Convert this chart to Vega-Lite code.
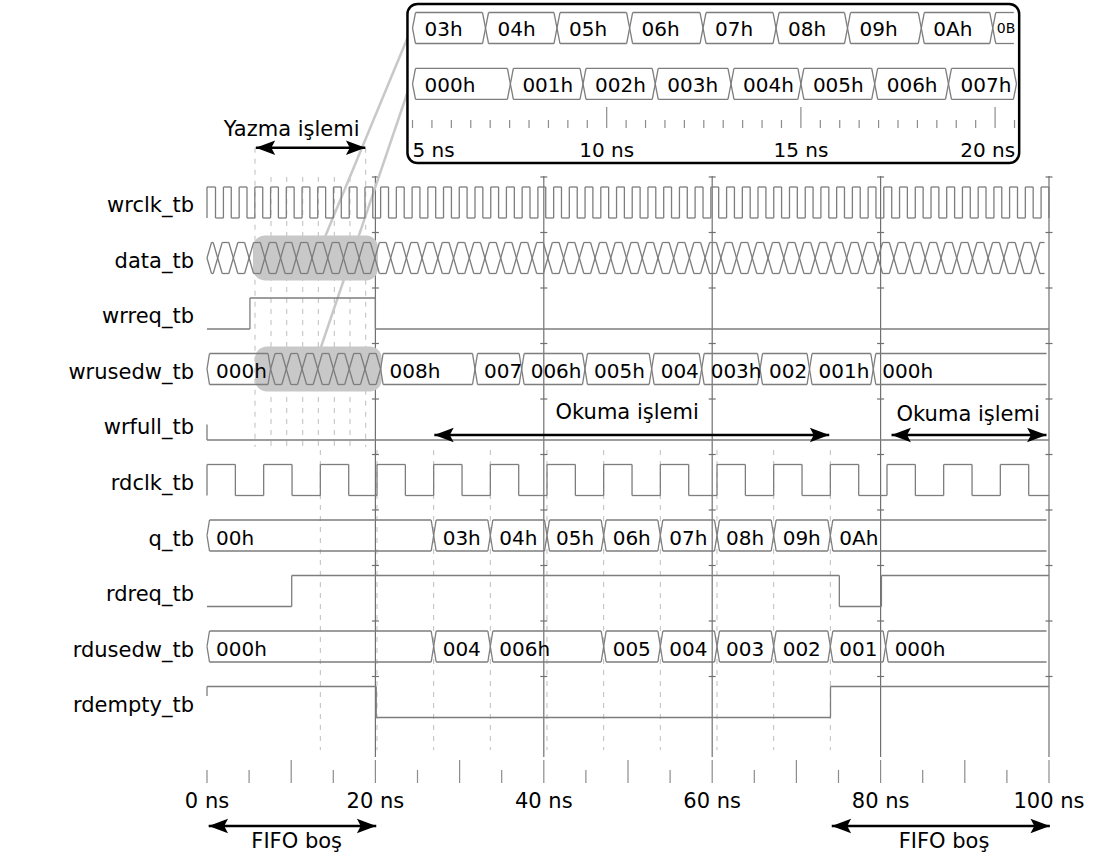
{
"$schema":"https://vega.github.io/schema/vega-lite/v6.json",
"width":1093,"height":859,"padding":0,
"autosize":{"type":"fit","contains":"padding"},
"config":{"view":{"stroke":null},"axis":{"disable":true},"text":{"font":"DejaVu Sans","fontSize":20,"color":"#000000"},"rule":{"color":"#7d7d7d","strokeWidth":1.3}},
"datasets":{
"signals":[{"sig":"wrclk_tb","row":0},{"sig":"data_tb","row":1},{"sig":"wrreq_tb","row":2},{"sig":"wrusedw_tb","row":3},{"sig":"wrfull_tb","row":4},{"sig":"rdclk_tb","row":5},{"sig":"q_tb","row":6},{"sig":"rdreq_tb","row":7},{"sig":"rdusedw_tb","row":8},{"sig":"rdempty_tb","row":9},{"sig":"zoom_data","row":-3.144},{"sig":"zoom_wrusedw","row":-2.139}],
"clocks":[
{"sig":"wrclk_tb","r":0,"f":1.01,"n":1.95},{"sig":"wrclk_tb","r":1.95,"f":2.88,"n":3.82},{"sig":"wrclk_tb","r":3.82,"f":4.75,"n":5.68},{"sig":"wrclk_tb","r":5.68,"f":6.62,"n":7.55},{"sig":"wrclk_tb","r":7.55,"f":8.48,"n":9.42},{"sig":"wrclk_tb","r":9.42,"f":10.35,"n":11.29},{"sig":"wrclk_tb","r":11.29,"f":12.22,"n":13.15},{"sig":"wrclk_tb","r":13.15,"f":14.09,"n":15.02},{"sig":"wrclk_tb","r":15.02,"f":15.95,"n":16.89},{"sig":"wrclk_tb","r":16.89,"f":17.82,"n":18.76},
{"sig":"wrclk_tb","r":18.76,"f":19.69,"n":20.62},{"sig":"wrclk_tb","r":20.62,"f":21.56,"n":22.49},{"sig":"wrclk_tb","r":22.49,"f":23.42,"n":24.36},{"sig":"wrclk_tb","r":24.36,"f":25.29,"n":26.23},{"sig":"wrclk_tb","r":26.23,"f":27.16,"n":28.09},{"sig":"wrclk_tb","r":28.09,"f":29.03,"n":29.96},{"sig":"wrclk_tb","r":29.96,"f":30.89,"n":31.83},{"sig":"wrclk_tb","r":31.83,"f":32.76,"n":33.7},{"sig":"wrclk_tb","r":33.7,"f":34.63,"n":35.56},{"sig":"wrclk_tb","r":35.56,"f":36.5,"n":37.43},
{"sig":"wrclk_tb","r":37.43,"f":38.36,"n":39.3},{"sig":"wrclk_tb","r":39.3,"f":40.23,"n":41.17},{"sig":"wrclk_tb","r":41.17,"f":42.1,"n":43.03},{"sig":"wrclk_tb","r":43.03,"f":43.97,"n":44.9},{"sig":"wrclk_tb","r":44.9,"f":45.83,"n":46.77},{"sig":"wrclk_tb","r":46.77,"f":47.7,"n":48.64},{"sig":"wrclk_tb","r":48.64,"f":49.57,"n":50.5},{"sig":"wrclk_tb","r":50.5,"f":51.44,"n":52.37},{"sig":"wrclk_tb","r":52.37,"f":53.3,"n":54.24},{"sig":"wrclk_tb","r":54.24,"f":55.17,"n":56.11},
{"sig":"wrclk_tb","r":56.11,"f":57.04,"n":57.97},{"sig":"wrclk_tb","r":57.97,"f":58.91,"n":59.84},{"sig":"wrclk_tb","r":59.84,"f":60.77,"n":61.71},{"sig":"wrclk_tb","r":61.71,"f":62.64,"n":63.58},{"sig":"wrclk_tb","r":63.58,"f":64.51,"n":65.44},{"sig":"wrclk_tb","r":65.44,"f":66.38,"n":67.31},{"sig":"wrclk_tb","r":67.31,"f":68.24,"n":69.18},{"sig":"wrclk_tb","r":69.18,"f":70.11,"n":71.05},{"sig":"wrclk_tb","r":71.05,"f":71.98,"n":72.91},{"sig":"wrclk_tb","r":72.91,"f":73.85,"n":74.78},
{"sig":"wrclk_tb","r":74.78,"f":75.71,"n":76.65},{"sig":"wrclk_tb","r":76.65,"f":77.58,"n":78.52},{"sig":"wrclk_tb","r":78.52,"f":79.45,"n":80.38},{"sig":"wrclk_tb","r":80.38,"f":81.32,"n":82.25},{"sig":"wrclk_tb","r":82.25,"f":83.18,"n":84.12},{"sig":"wrclk_tb","r":84.12,"f":85.05,"n":85.99},{"sig":"wrclk_tb","r":85.99,"f":86.92,"n":87.85},{"sig":"wrclk_tb","r":87.85,"f":88.79,"n":89.72},{"sig":"wrclk_tb","r":89.72,"f":90.65,"n":91.59},{"sig":"wrclk_tb","r":91.59,"f":92.52,"n":93.46},
{"sig":"wrclk_tb","r":93.46,"f":94.39,"n":95.32},{"sig":"wrclk_tb","r":95.32,"f":96.26,"n":97.19},{"sig":"wrclk_tb","r":97.19,"f":98.12,"n":99.06},{"sig":"wrclk_tb","r":99.06,"f":99.99,"n":100},
{"sig":"rdclk_tb","r":0,"f":3.37,"n":6.73},{"sig":"rdclk_tb","r":6.73,"f":10.1,"n":13.46},{"sig":"rdclk_tb","r":13.46,"f":16.83,"n":20.19},{"sig":"rdclk_tb","r":20.19,"f":23.56,"n":26.92},{"sig":"rdclk_tb","r":26.92,"f":30.29,"n":33.65},{"sig":"rdclk_tb","r":33.65,"f":37.02,"n":40.38},{"sig":"rdclk_tb","r":40.38,"f":43.75,"n":47.11},{"sig":"rdclk_tb","r":47.11,"f":50.48,"n":53.84},{"sig":"rdclk_tb","r":53.84,"f":57.21,"n":60.57},{"sig":"rdclk_tb","r":60.57,"f":63.94,"n":67.3},{"sig":"rdclk_tb","r":67.3,"f":70.67,"n":74.03},{"sig":"rdclk_tb","r":74.03,"f":77.4,"n":80.76},{"sig":"rdclk_tb","r":80.76,"f":84.13,"n":87.49},{"sig":"rdclk_tb","r":87.49,"f":90.86,"n":94.22},{"sig":"rdclk_tb","r":94.22,"f":97.59,"n":100}
],
"levels":[
{"sig":"wrreq_tb","t0":0,"t1":5.1,"v":0},{"sig":"wrreq_tb","t0":5.1,"t1":20,"v":1},{"sig":"wrreq_tb","t0":20,"t1":100,"v":0},
{"sig":"wrfull_tb","t0":0,"t1":100,"v":0},
{"sig":"rdreq_tb","t0":0,"t1":10.06,"v":0},{"sig":"rdreq_tb","t0":10.06,"t1":75.1,"v":1},{"sig":"rdreq_tb","t0":75.1,"t1":80.1,"v":0},{"sig":"rdreq_tb","t0":80.1,"t1":100,"v":1},
{"sig":"rdempty_tb","t0":0,"t1":20.1,"v":1},{"sig":"rdempty_tb","t0":20.1,"t1":74.05,"v":0},{"sig":"rdempty_tb","t0":74.05,"t1":100,"v":1}
],
"stubs":[{"sig":"wrfull_tb","t":0,"v":0},{"sig":"rdempty_tb","t":0,"v":1}],
"buses":[
{"sig":"data_tb","t0":0,"t1":1.27},{"sig":"data_tb","t0":1.27,"t1":3.13},{"sig":"data_tb","t0":3.13,"t1":5.0},{"sig":"data_tb","t0":5.0,"t1":6.87},{"sig":"data_tb","t0":6.87,"t1":8.74},{"sig":"data_tb","t0":8.74,"t1":10.6},{"sig":"data_tb","t0":10.6,"t1":12.47},{"sig":"data_tb","t0":12.47,"t1":14.34},{"sig":"data_tb","t0":14.34,"t1":16.21},{"sig":"data_tb","t0":16.21,"t1":18.07},
{"sig":"data_tb","t0":18.07,"t1":19.94},{"sig":"data_tb","t0":19.94,"t1":21.81},{"sig":"data_tb","t0":21.81,"t1":23.68},{"sig":"data_tb","t0":23.68,"t1":25.54},{"sig":"data_tb","t0":25.54,"t1":27.41},{"sig":"data_tb","t0":27.41,"t1":29.28},{"sig":"data_tb","t0":29.28,"t1":31.15},{"sig":"data_tb","t0":31.15,"t1":33.01},{"sig":"data_tb","t0":33.01,"t1":34.88},{"sig":"data_tb","t0":34.88,"t1":36.75},
{"sig":"data_tb","t0":36.75,"t1":38.62},{"sig":"data_tb","t0":38.62,"t1":40.48},{"sig":"data_tb","t0":40.48,"t1":42.35},{"sig":"data_tb","t0":42.35,"t1":44.22},{"sig":"data_tb","t0":44.22,"t1":46.09},{"sig":"data_tb","t0":46.09,"t1":47.95},{"sig":"data_tb","t0":47.95,"t1":49.82},{"sig":"data_tb","t0":49.82,"t1":51.69},{"sig":"data_tb","t0":51.69,"t1":53.56},{"sig":"data_tb","t0":53.56,"t1":55.42},
{"sig":"data_tb","t0":55.42,"t1":57.29},{"sig":"data_tb","t0":57.29,"t1":59.16},{"sig":"data_tb","t0":59.16,"t1":61.03},{"sig":"data_tb","t0":61.03,"t1":62.89},{"sig":"data_tb","t0":62.89,"t1":64.76},{"sig":"data_tb","t0":64.76,"t1":66.63},{"sig":"data_tb","t0":66.63,"t1":68.5},{"sig":"data_tb","t0":68.5,"t1":70.36},{"sig":"data_tb","t0":70.36,"t1":72.23},{"sig":"data_tb","t0":72.23,"t1":74.1},
{"sig":"data_tb","t0":74.1,"t1":75.97},{"sig":"data_tb","t0":75.97,"t1":77.83},{"sig":"data_tb","t0":77.83,"t1":79.7},{"sig":"data_tb","t0":79.7,"t1":81.57},{"sig":"data_tb","t0":81.57,"t1":83.44},{"sig":"data_tb","t0":83.44,"t1":85.3},{"sig":"data_tb","t0":85.3,"t1":87.17},{"sig":"data_tb","t0":87.17,"t1":89.04},{"sig":"data_tb","t0":89.04,"t1":90.91},{"sig":"data_tb","t0":90.91,"t1":92.77},
{"sig":"data_tb","t0":92.77,"t1":94.64},{"sig":"data_tb","t0":94.64,"t1":96.51},{"sig":"data_tb","t0":96.51,"t1":98.38},{"sig":"data_tb","t0":98.38,"t1":100},
{"sig":"wrusedw_tb","t0":0,"t1":7.55,"lbl":"000h"},{"sig":"wrusedw_tb","t0":7.55,"t1":9.42},{"sig":"wrusedw_tb","t0":9.42,"t1":11.29},{"sig":"wrusedw_tb","t0":11.29,"t1":13.15},{"sig":"wrusedw_tb","t0":13.15,"t1":15.02},{"sig":"wrusedw_tb","t0":15.02,"t1":16.89},{"sig":"wrusedw_tb","t0":16.89,"t1":18.76},{"sig":"wrusedw_tb","t0":18.76,"t1":20.62},
{"sig":"wrusedw_tb","t0":20.62,"t1":31.83,"lbl":"008h"},{"sig":"wrusedw_tb","t0":31.83,"t1":37.37,"lbl":"007"},{"sig":"wrusedw_tb","t0":37.37,"t1":44.89,"lbl":"006h"},{"sig":"wrusedw_tb","t0":44.89,"t1":52.81,"lbl":"005h"},{"sig":"wrusedw_tb","t0":52.81,"t1":58.75,"lbl":"004"},{"sig":"wrusedw_tb","t0":58.75,"t1":65.68,"lbl":"003h"},{"sig":"wrusedw_tb","t0":65.68,"t1":71.56,"lbl":"002"},{"sig":"wrusedw_tb","t0":71.56,"t1":79.13,"lbl":"001h"},{"sig":"wrusedw_tb","t0":79.13,"t1":100,"lbl":"000h"},
{"sig":"q_tb","t0":0,"t1":26.92,"lbl":"00h"},{"sig":"q_tb","t0":26.92,"t1":33.65,"lbl":"03h"},{"sig":"q_tb","t0":33.65,"t1":40.38,"lbl":"04h"},{"sig":"q_tb","t0":40.38,"t1":47.11,"lbl":"05h"},{"sig":"q_tb","t0":47.11,"t1":53.84,"lbl":"06h"},{"sig":"q_tb","t0":53.84,"t1":60.57,"lbl":"07h"},{"sig":"q_tb","t0":60.57,"t1":67.3,"lbl":"08h"},{"sig":"q_tb","t0":67.3,"t1":74.03,"lbl":"09h"},{"sig":"q_tb","t0":74.03,"t1":100,"lbl":"0Ah"},
{"sig":"rdusedw_tb","t0":0,"t1":26.92,"lbl":"000h"},{"sig":"rdusedw_tb","t0":26.92,"t1":33.65,"lbl":"004"},{"sig":"rdusedw_tb","t0":33.65,"t1":47.11,"lbl":"006h"},{"sig":"rdusedw_tb","t0":47.11,"t1":53.84,"lbl":"005"},{"sig":"rdusedw_tb","t0":53.84,"t1":60.57,"lbl":"004"},{"sig":"rdusedw_tb","t0":60.57,"t1":67.3,"lbl":"003"},{"sig":"rdusedw_tb","t0":67.3,"t1":74.03,"lbl":"002"},{"sig":"rdusedw_tb","t0":74.03,"t1":80.6,"lbl":"001"},{"sig":"rdusedw_tb","t0":80.6,"t1":100,"lbl":"000h"}
],
"zoombus":[
{"sig":"zoom_data","t0":5,"t1":6.88,"lbl":"03h"},{"sig":"zoom_data","t0":6.88,"t1":8.72,"lbl":"04h"},{"sig":"zoom_data","t0":8.72,"t1":10.59,"lbl":"05h"},{"sig":"zoom_data","t0":10.59,"t1":12.48,"lbl":"06h"},{"sig":"zoom_data","t0":12.48,"t1":14.36,"lbl":"07h"},{"sig":"zoom_data","t0":14.36,"t1":16.2,"lbl":"08h"},{"sig":"zoom_data","t0":16.2,"t1":18.1,"lbl":"09h"},{"sig":"zoom_data","t0":18.1,"t1":19.94,"lbl":"0Ah"},{"sig":"zoom_data","t0":19.94,"t1":20.56,"lbl":"0B"},
{"sig":"zoom_wrusedw","t0":5,"t1":7.52,"lbl":"000h"},{"sig":"zoom_wrusedw","t0":7.52,"t1":9.39,"lbl":"001h"},{"sig":"zoom_wrusedw","t0":9.39,"t1":11.25,"lbl":"002h"},{"sig":"zoom_wrusedw","t0":11.25,"t1":13.2,"lbl":"003h"},{"sig":"zoom_wrusedw","t0":13.2,"t1":15.0,"lbl":"004h"},{"sig":"zoom_wrusedw","t0":15.0,"t1":16.9,"lbl":"005h"},{"sig":"zoom_wrusedw","t0":16.9,"t1":18.8,"lbl":"006h"},{"sig":"zoom_wrusedw","t0":18.8,"t1":20.55,"lbl":"007h"}
],
"dash":[
{"grp":"we","t":5.7},{"grp":"we","t":18.85},
{"grp":"wi","t":7.6},{"grp":"wi","t":9.47},{"grp":"wi","t":11.37},{"grp":"wi","t":13.22},{"grp":"wi","t":15.12},{"grp":"wi","t":16.98},
{"grp":"r","t":13.46},{"grp":"r","t":20.19},{"grp":"r","t":26.92},{"grp":"r","t":33.65},{"grp":"r","t":40.38},{"grp":"r","t":47.11},{"grp":"r","t":53.84},{"grp":"r","t":60.57},{"grp":"r","t":67.3},{"grp":"r","t":74.03}
],
"grid":[{"t":20,"seps":[0,1,2,3,4,5,6,7,8,9]},{"t":40,"seps":[0,1,2,3,4,5,6,7,8,9]},{"t":60,"seps":[0,1,2,3,4,5,6,7,8,9]},{"t":80,"seps":[0,1,2,3,4,5,6,7,8,9]},{"t":100,"seps":[0,1,2,3,4,5,6,7,8,9]}],
"zoomlines":[{"x0":24.35,"y0":-3.162,"x1":14.01,"y1":0.622},{"x0":24.11,"y0":-2.117,"x1":13.54,"y1":2.604}],
"shades":[{"sig":"data_tb","t0":5.46,"t1":20.31},{"sig":"wrusedw_tb","t0":5.7,"t1":20.75}],
"xticks":[{"t":0,"major":false},{"t":5,"major":false},{"t":10,"major":true},{"t":15,"major":false},{"t":20,"major":true},{"t":25,"major":false},{"t":30,"major":true},{"t":35,"major":false},{"t":40,"major":true},{"t":45,"major":false},{"t":50,"major":true},{"t":55,"major":false},{"t":60,"major":true},{"t":65,"major":false},{"t":70,"major":true},{"t":75,"major":false},{"t":80,"major":true},{"t":85,"major":false},{"t":90,"major":true},{"t":95,"major":false},{"t":100,"major":true}],
"xlabels":[{"t":0,"lbl":"0 ns"},{"t":20,"lbl":"20 ns"},{"t":40,"lbl":"40 ns"},{"t":60,"lbl":"60 ns"},{"t":80,"lbl":"80 ns"},{"t":100,"lbl":"100 ns"}],
"arrows":[{"a":5.8,"b":18.8,"y":-0.987},{"a":27.0,"b":73.9,"y":4.189},{"a":81.3,"b":99.7,"y":4.189},{"a":0.2,"b":20.1,"y":11.234},{"a":74.2,"b":100.1,"y":11.234}],
"notes":[{"x":10.06,"y":-1.306,"txt":"Yazma işlemi"},{"x":49.9,"y":3.798,"txt":"Okuma işlemi"},{"x":90.4,"y":3.829,"txt":"Okuma işlemi"},{"x":10.65,"y":11.517,"txt":"FIFO boş"},{"x":87.53,"y":11.517,"txt":"FIFO boş"}],
"zticks":[{"t":5,"major":false},{"t":5.5,"major":false},{"t":6,"major":false},{"t":6.5,"major":false},{"t":7,"major":false},{"t":7.5,"major":false},{"t":8,"major":false},{"t":8.5,"major":false},{"t":9,"major":false},{"t":9.5,"major":false},{"t":10,"major":true},{"t":10.5,"major":false},{"t":11,"major":false},{"t":11.5,"major":false},{"t":12,"major":false},{"t":12.5,"major":false},{"t":13,"major":false},{"t":13.5,"major":false},{"t":14,"major":false},{"t":14.5,"major":false},{"t":15,"major":true},{"t":15.5,"major":false},{"t":16,"major":false},{"t":16.5,"major":false},{"t":17,"major":false},{"t":17.5,"major":false},{"t":18,"major":false},{"t":18.5,"major":false},{"t":19,"major":false},{"t":19.5,"major":false},{"t":20,"major":true},{"t":20.5,"major":false}],
"zlabels":[{"t":5,"lbl":"5 ns"},{"t":10,"lbl":"10 ns"},{"t":15,"lbl":"15 ns"},{"t":20,"lbl":"20 ns"}]
},
"resolve":{"scale":{"x":"independent"}},
"layer":[
{"layer":[
 {"data":{"name":"dash"},"transform":[{"filter":"datum.grp=='we'"}],"mark":{"type":"rule","color":"#bdbdbd","strokeWidth":1,"strokeDash":[5,6]},
  "encoding":{"x":{"field":"t","type":"quantitative","scale":{"domain":[-24.584,105.226],"zero":false,"nice":false}},"y":{"datum":-0.987,"type":"quantitative","scale":{"domain":[-3.6486,11.8288],"reverse":true,"zero":false,"nice":false}},"y2":{"datum":4.405}}},
 {"data":{"name":"dash"},"transform":[{"filter":"datum.grp=='wi'"}],"mark":{"type":"rule","color":"#bdbdbd","strokeWidth":1,"strokeDash":[5,6]},
  "encoding":{"x":{"field":"t","type":"quantitative"},"y":{"datum":-0.46,"type":"quantitative"},"y2":{"datum":4.405}}},
 {"data":{"name":"dash"},"transform":[{"filter":"datum.grp=='r'"}],"mark":{"type":"rule","color":"#bdbdbd","strokeWidth":1,"strokeDash":[5,6]},
  "encoding":{"x":{"field":"t","type":"quantitative"},"y":{"datum":4.46,"type":"quantitative"},"y2":{"datum":9.865}}},
 {"data":{"name":"grid"},"mark":{"type":"rule","color":"#707070","strokeWidth":1.2},
  "encoding":{"x":{"field":"t","type":"quantitative"},"y":{"datum":-0.477,"type":"quantitative"},"y2":{"datum":9.99}}},
 {"data":{"name":"grid"},"transform":[{"flatten":["seps"]}],"mark":{"type":"rule","color":"#707070","strokeWidth":1.2,"xOffset":-3.5,"x2Offset":3.5,"yOffset":-25.5},
  "encoding":{"x":{"field":"t","type":"quantitative"},"x2":{"field":"t"},"y":{"field":"seps","type":"quantitative"}}},
 {"data":{"name":"zoomlines"},"mark":{"type":"rule","color":"#c8c8c8","strokeWidth":2.5},
  "encoding":{"x":{"field":"x0","type":"quantitative"},"x2":{"field":"x1"},"y":{"field":"y0","type":"quantitative"},"y2":{"field":"y1"}}},
 {"data":{"name":"shades"},"transform":[{"lookup":"sig","from":{"data":{"name":"signals"},"key":"sig","fields":["row"]}}],
  "mark":{"type":"rect","color":"#c8c8c8","cornerRadius":12,"yOffset":-22.5,"y2Offset":22.5},
  "encoding":{"x":{"field":"t0","type":"quantitative"},"x2":{"field":"t1"},"y":{"field":"row","type":"quantitative"},"y2":{"field":"row"}}},
 {"data":{"name":"clocks"},"transform":[{"lookup":"sig","from":{"data":{"name":"signals"},"key":"sig","fields":["row"]}}],
  "layer":[
   {"mark":{"type":"rule","yOffset":-15.5,"y2Offset":15.5},"encoding":{"x":{"field":"r","type":"quantitative"},"y":{"field":"row","type":"quantitative"},"y2":{"field":"row"}}},
   {"mark":{"type":"rule","yOffset":-15.5},"encoding":{"x":{"field":"r","type":"quantitative"},"x2":{"field":"f"},"y":{"field":"row","type":"quantitative"}}},
   {"mark":{"type":"rule","yOffset":-15.5,"y2Offset":15.5},"encoding":{"x":{"field":"f","type":"quantitative"},"y":{"field":"row","type":"quantitative"},"y2":{"field":"row"}}},
   {"mark":{"type":"rule","yOffset":15.5},"encoding":{"x":{"field":"f","type":"quantitative"},"x2":{"field":"n"},"y":{"field":"row","type":"quantitative"}}}
  ]},
 {"data":{"name":"levels"},"transform":[{"lookup":"sig","from":{"data":{"name":"signals"},"key":"sig","fields":["row"]}}],
  "layer":[
   {"transform":[{"filter":"datum.v==1"}],"mark":{"type":"rule","yOffset":-15.5},"encoding":{"x":{"field":"t0","type":"quantitative"},"x2":{"field":"t1"},"y":{"field":"row","type":"quantitative"}}},
   {"transform":[{"filter":"datum.v==0"}],"mark":{"type":"rule","yOffset":15.5},"encoding":{"x":{"field":"t0","type":"quantitative"},"x2":{"field":"t1"},"y":{"field":"row","type":"quantitative"}}},
   {"transform":[{"filter":"datum.t0>0"}],"mark":{"type":"rule","yOffset":-15.5,"y2Offset":15.5},"encoding":{"x":{"field":"t0","type":"quantitative"},"y":{"field":"row","type":"quantitative"},"y2":{"field":"row"}}}
  ]},
 {"data":{"name":"stubs"},"transform":[{"lookup":"sig","from":{"data":{"name":"signals"},"key":"sig","fields":["row"]}}],
  "layer":[
   {"transform":[{"filter":"datum.v==0"}],"mark":{"type":"rule","yOffset":0,"y2Offset":15.5},"encoding":{"x":{"field":"t","type":"quantitative"},"y":{"field":"row","type":"quantitative"},"y2":{"field":"row"}}},
   {"transform":[{"filter":"datum.v==1"}],"mark":{"type":"rule","yOffset":-15.5,"y2Offset":-6},"encoding":{"x":{"field":"t","type":"quantitative"},"y":{"field":"row","type":"quantitative"},"y2":{"field":"row"}}}
  ]},
 {"data":{"name":"buses"},"transform":[{"lookup":"sig","from":{"data":{"name":"signals"},"key":"sig","fields":["row"]}}],
  "layer":[
   {"transform":[{"filter":"datum.t1-datum.t0>=2.5"}],"layer":[
    {"mark":{"type":"rule","xOffset":2.5,"x2Offset":-2.5,"yOffset":-15.5},"encoding":{"x":{"field":"t0","type":"quantitative"},"x2":{"field":"t1"},"y":{"field":"row","type":"quantitative"}}},
    {"mark":{"type":"rule","xOffset":2.5,"x2Offset":-2.5,"yOffset":15.5},"encoding":{"x":{"field":"t0","type":"quantitative"},"x2":{"field":"t1"},"y":{"field":"row","type":"quantitative"}}},
    {"mark":{"type":"rule","x2Offset":2.5,"y2Offset":-15.5},"encoding":{"x":{"field":"t0","type":"quantitative"},"x2":{"field":"t0"},"y":{"field":"row","type":"quantitative"},"y2":{"field":"row"}}},
    {"mark":{"type":"rule","x2Offset":2.5,"y2Offset":15.5},"encoding":{"x":{"field":"t0","type":"quantitative"},"x2":{"field":"t0"},"y":{"field":"row","type":"quantitative"},"y2":{"field":"row"}}},
    {"transform":[{"filter":"datum.t1<100"}],"mark":{"type":"rule","x2Offset":-2.5,"y2Offset":-15.5},"encoding":{"x":{"field":"t1","type":"quantitative"},"x2":{"field":"t1"},"y":{"field":"row","type":"quantitative"},"y2":{"field":"row"}}},
    {"transform":[{"filter":"datum.t1<100"}],"mark":{"type":"rule","x2Offset":-2.5,"y2Offset":15.5},"encoding":{"x":{"field":"t1","type":"quantitative"},"x2":{"field":"t1"},"y":{"field":"row","type":"quantitative"},"y2":{"field":"row"}}}
   ]},
   {"transform":[{"filter":"datum.t1-datum.t0<2.5"}],"layer":[
    {"mark":{"type":"rule","xOffset":4.5,"x2Offset":-4.5,"yOffset":-15.5},"encoding":{"x":{"field":"t0","type":"quantitative"},"x2":{"field":"t1"},"y":{"field":"row","type":"quantitative"}}},
    {"mark":{"type":"rule","xOffset":4.5,"x2Offset":-4.5,"yOffset":15.5},"encoding":{"x":{"field":"t0","type":"quantitative"},"x2":{"field":"t1"},"y":{"field":"row","type":"quantitative"}}},
    {"mark":{"type":"rule","x2Offset":4.5,"y2Offset":-15.5},"encoding":{"x":{"field":"t0","type":"quantitative"},"x2":{"field":"t0"},"y":{"field":"row","type":"quantitative"},"y2":{"field":"row"}}},
    {"mark":{"type":"rule","x2Offset":4.5,"y2Offset":15.5},"encoding":{"x":{"field":"t0","type":"quantitative"},"x2":{"field":"t0"},"y":{"field":"row","type":"quantitative"},"y2":{"field":"row"}}},
    {"transform":[{"filter":"datum.t1<100"}],"mark":{"type":"rule","x2Offset":-4.5,"y2Offset":-15.5},"encoding":{"x":{"field":"t1","type":"quantitative"},"x2":{"field":"t1"},"y":{"field":"row","type":"quantitative"},"y2":{"field":"row"}}},
    {"transform":[{"filter":"datum.t1<100"}],"mark":{"type":"rule","x2Offset":-4.5,"y2Offset":15.5},"encoding":{"x":{"field":"t1","type":"quantitative"},"x2":{"field":"t1"},"y":{"field":"row","type":"quantitative"},"y2":{"field":"row"}}}
   ]},
   {"transform":[{"filter":"datum.lbl"}],"mark":{"type":"text","align":"left","baseline":"alphabetic","dx":9,"dy":9},"encoding":{"x":{"field":"t0","type":"quantitative"},"y":{"field":"row","type":"quantitative"},"text":{"field":"lbl"}}}
  ]},
 {"data":{"name":"signals"},"transform":[{"filter":"datum.row>=0"}],"mark":{"type":"text","align":"right","baseline":"alphabetic","dx":-13,"dy":10,"fontSize":21},
  "encoding":{"x":{"datum":0,"type":"quantitative"},"y":{"field":"row","type":"quantitative"},"text":{"field":"sig"}}},
 {"data":{"name":"xticks"},"transform":[{"filter":"datum.major"}],"mark":{"type":"rule","color":"#8c8c8c","strokeWidth":1.2},
  "encoding":{"x":{"field":"t","type":"quantitative"},"y":{"datum":10.045,"type":"quantitative"},"y2":{"datum":10.459}}},
 {"data":{"name":"xticks"},"transform":[{"filter":"!datum.major"}],"mark":{"type":"rule","color":"#8c8c8c","strokeWidth":1.2},
  "encoding":{"x":{"field":"t","type":"quantitative"},"y":{"datum":10.225,"type":"quantitative"},"y2":{"datum":10.459}}},
 {"data":{"name":"xlabels"},"mark":{"type":"text","align":"center","baseline":"middle","fontSize":21},
  "encoding":{"x":{"field":"t","type":"quantitative"},"y":{"datum":10.802,"type":"quantitative"},"text":{"field":"lbl"}}},
 {"data":{"name":"arrows"},
  "layer":[
   {"mark":{"type":"rule","color":"#000000","strokeWidth":2.6},"encoding":{"x":{"field":"a","type":"quantitative"},"x2":{"field":"b"},"y":{"field":"y","type":"quantitative"}}},
   {"mark":{"type":"point","shape":"M0,0L1,-0.37L0.8,0L1,0.37Z","size":1500,"filled":true,"color":"#000000","opacity":1,"strokeWidth":0},"encoding":{"x":{"field":"a","type":"quantitative"},"y":{"field":"y","type":"quantitative"}}},
   {"mark":{"type":"point","shape":"M0,0L-1,-0.37L-0.8,0L-1,0.37Z","size":1500,"filled":true,"color":"#000000","opacity":1,"strokeWidth":0},"encoding":{"x":{"field":"b","type":"quantitative"},"y":{"field":"y","type":"quantitative"}}}
  ]},
 {"data":{"name":"notes"},"mark":{"type":"text","align":"center","baseline":"middle","fontSize":21},
  "encoding":{"x":{"field":"x","type":"quantitative"},"y":{"field":"y","type":"quantitative"},"text":{"field":"txt"}}}
]},
{"layer":[
 {"data":{"values":[{}]},"mark":{"type":"rect","fill":"#ffffff","stroke":"#000000","strokeWidth":2.5,"cornerRadius":10},
  "encoding":{"x":{"datum":4.87,"type":"quantitative","scale":{"domain":[-5.621,22.521],"zero":false,"nice":false}},"x2":{"datum":20.62},"y":{"datum":-3.577,"type":"quantitative"},"y2":{"datum":-0.712}}},
 {"data":{"name":"zoombus"},"transform":[{"lookup":"sig","from":{"data":{"name":"signals"},"key":"sig","fields":["row"]}}],
  "layer":[
   {"mark":{"type":"rule","xOffset":3,"x2Offset":-3,"yOffset":-15.5},"encoding":{"x":{"field":"t0","type":"quantitative"},"x2":{"field":"t1"},"y":{"field":"row","type":"quantitative"}}},
   {"mark":{"type":"rule","xOffset":3,"x2Offset":-3,"yOffset":15.5},"encoding":{"x":{"field":"t0","type":"quantitative"},"x2":{"field":"t1"},"y":{"field":"row","type":"quantitative"}}},
   {"mark":{"type":"rule","x2Offset":3,"y2Offset":-15.5},"encoding":{"x":{"field":"t0","type":"quantitative"},"x2":{"field":"t0"},"y":{"field":"row","type":"quantitative"},"y2":{"field":"row"}}},
   {"mark":{"type":"rule","x2Offset":3,"y2Offset":15.5},"encoding":{"x":{"field":"t0","type":"quantitative"},"x2":{"field":"t0"},"y":{"field":"row","type":"quantitative"},"y2":{"field":"row"}}},
   {"transform":[{"filter":"datum.t1<20.56"}],"mark":{"type":"rule","x2Offset":-3,"y2Offset":-15.5},"encoding":{"x":{"field":"t1","type":"quantitative"},"x2":{"field":"t1"},"y":{"field":"row","type":"quantitative"},"y2":{"field":"row"}}},
   {"transform":[{"filter":"datum.t1<20.56"}],"mark":{"type":"rule","x2Offset":-3,"y2Offset":15.5},"encoding":{"x":{"field":"t1","type":"quantitative"},"x2":{"field":"t1"},"y":{"field":"row","type":"quantitative"},"y2":{"field":"row"}}},
   {"transform":[{"filter":"datum.lbl!='0B'"}],"mark":{"type":"text","align":"left","baseline":"alphabetic","dx":12,"dy":8},"encoding":{"x":{"field":"t0","type":"quantitative"},"y":{"field":"row","type":"quantitative"},"text":{"field":"lbl"}}},
   {"transform":[{"filter":"datum.lbl=='0B'"}],"mark":{"type":"text","align":"left","baseline":"alphabetic","dx":4,"dy":5,"fontSize":14},"encoding":{"x":{"field":"t0","type":"quantitative"},"y":{"field":"row","type":"quantitative"},"text":{"field":"lbl"}}}
  ]},
 {"data":{"name":"zticks"},"transform":[{"filter":"datum.major"}],"mark":{"type":"rule","color":"#8c8c8c","strokeWidth":1.2},
  "encoding":{"x":{"field":"t","type":"quantitative"},"y":{"datum":-1.721,"type":"quantitative"},"y2":{"datum":-1.342}}},
 {"data":{"name":"zticks"},"transform":[{"filter":"!datum.major"}],"mark":{"type":"rule","color":"#8c8c8c","strokeWidth":1.2},
  "encoding":{"x":{"field":"t","type":"quantitative"},"y":{"datum":-1.486,"type":"quantitative"},"y2":{"datum":-1.342}}},
 {"data":{"name":"zlabels"},"transform":[{"filter":"datum.t==5"}],"mark":{"type":"text","align":"left","baseline":"middle"},
  "encoding":{"x":{"field":"t","type":"quantitative"},"y":{"datum":-0.935,"type":"quantitative"},"text":{"field":"lbl"}}},
 {"data":{"name":"zlabels"},"transform":[{"filter":"datum.t==10 || datum.t==15"}],"mark":{"type":"text","align":"center","baseline":"middle"},
  "encoding":{"x":{"field":"t","type":"quantitative"},"y":{"datum":-0.935,"type":"quantitative"},"text":{"field":"lbl"}}},
 {"data":{"name":"zlabels"},"transform":[{"filter":"datum.t==20"}],"mark":{"type":"text","align":"right","baseline":"middle","dx":20},
  "encoding":{"x":{"field":"t","type":"quantitative"},"y":{"datum":-0.935,"type":"quantitative"},"text":{"field":"lbl"}}}
]}
]
}
